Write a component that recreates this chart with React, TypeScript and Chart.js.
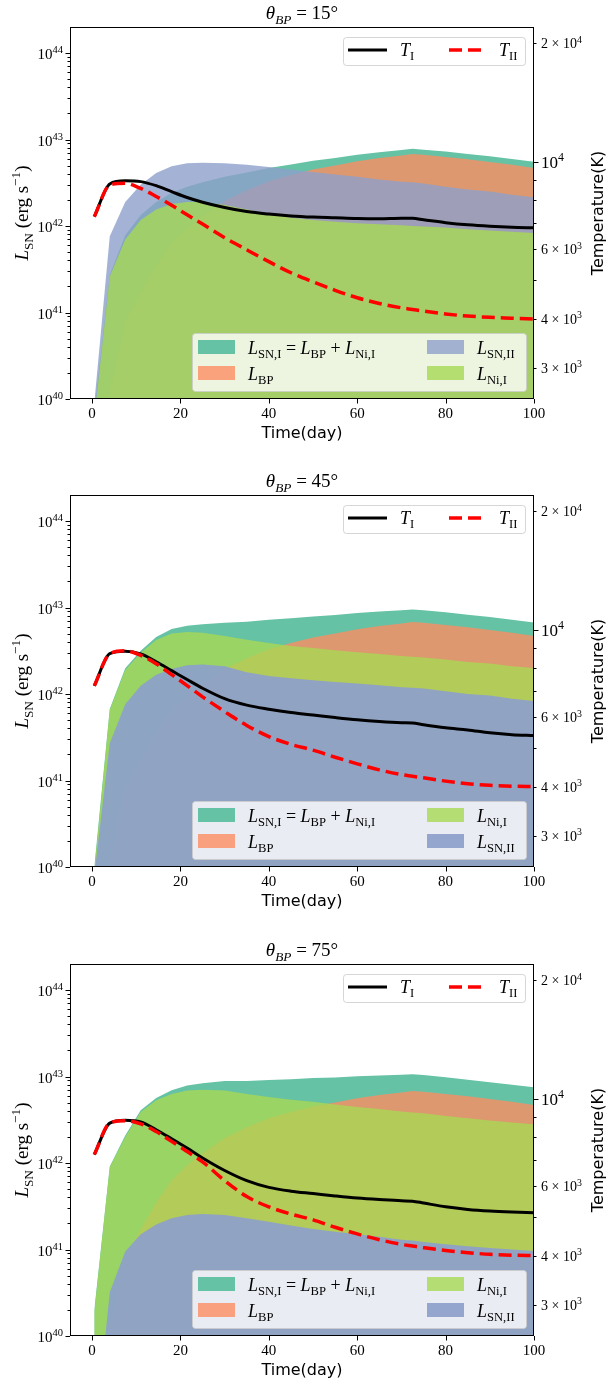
import React, { useEffect, useRef } from "react";
import { Chart, registerables } from "chart.js";

Chart.register(...registerables);

// ---------------- data ----------------
const days = [0.5, 4, 7.5, 11, 14.5, 18, 21.5, 25, 30, 35, 40, 45, 50, 55, 60, 65, 70, 72.5, 75, 80, 85, 90, 95, 100];

// L_BP (erg/s), same in the three panels
const lumBP = [1e39, 1.2e40, 8e40, 1.7e41, 3.5e41, 6.3e41, 9.5e41, 1.3e42, 1.95e42, 2.6e42, 3.3e42, 3.9e42, 4.5e42, 5.0e42, 5.6e42, 6.1e42, 6.55e42, 6.8e42, 6.65e42, 6.3e42, 5.9e42, 5.5e42, 5.1e42, 4.7e42];

// theta_BP = 15 deg
const lumSNI_15 = [7e39, 2.72e41, 7.8e41, 1.34e42, 1.9e42, 2.43e42, 2.85e42, 3.2e42, 3.7e42, 4.15e42, 4.68e42, 5.15e42, 5.67e42, 6.12e42, 6.68e42, 7.15e42, 7.57e42, 7.8e42, 7.64e42, 7.26e42, 6.82e42, 6.39e42, 5.96e42, 5.53e42];
const lumNiI_15 = [6e39, 2.6e41, 7e41, 1.17e42, 1.55e42, 1.8e42, 1.9e42, 1.9e42, 1.75e42, 1.55e42, 1.38e42, 1.25e42, 1.17e42, 1.12e42, 1.08e42, 1.05e42, 1.02e42, 1.0e42, 9.9e41, 9.6e41, 9.2e41, 8.9e41, 8.6e41, 8.3e41];
const lumSNII_15 = [9e39, 7.6e41, 1.9e42, 3.0e42, 4.1e42, 4.9e42, 5.3e42, 5.4e42, 5.3e42, 5.1e42, 4.8e42, 4.5e42, 4.2e42, 3.95e42, 3.7e42, 3.45e42, 3.25e42, 3.2e42, 3.1e42, 2.85e42, 2.65e42, 2.5e42, 2.3e42, 2.15e42];
const tempI_15 = [7260, 8790, 8950, 8910, 8700, 8400, 8120, 7900, 7660, 7480, 7370, 7290, 7240, 7210, 7180, 7170, 7190, 7190, 7130, 7010, 6920, 6860, 6820, 6800];
const tempII_15 = [7260, 8730, 8820, 8560, 8170, 7760, 7340, 6950, 6420, 5980, 5580, 5230, 4960, 4720, 4520, 4370, 4260, 4220, 4180, 4110, 4060, 4030, 4010, 3990];

// theta_BP = 45 deg
const lumSNI_45 = [1e40, 6.72e41, 1.98e42, 3.17e42, 4.55e42, 5.63e42, 6.15e42, 6.4e42, 6.65e42, 6.85e42, 7.2e42, 7.5e42, 7.9e42, 8.2e42, 8.65e42, 9.0e42, 9.3e42, 9.5e42, 9.3e42, 8.8e42, 8.25e42, 7.75e42, 7.2e42, 6.7e42];
const lumNiI_45 = [9e39, 6.6e41, 1.9e42, 3.0e42, 4.2e42, 5.0e42, 5.2e42, 5.1e42, 4.7e42, 4.25e42, 3.9e42, 3.6e42, 3.4e42, 3.2e42, 3.05e42, 2.9e42, 2.75e42, 2.7e42, 2.65e42, 2.5e42, 2.35e42, 2.25e42, 2.1e42, 2.0e42];
const lumSNII_45 = [8e39, 2.7e41, 7.6e41, 1.25e42, 1.67e42, 1.95e42, 2.15e42, 2.2e42, 2.1e42, 1.78e42, 1.62e42, 1.52e42, 1.44e42, 1.38e42, 1.32e42, 1.26e42, 1.2e42, 1.18e42, 1.16e42, 1.08e42, 1.0e42, 9.6e41, 8.8e41, 8.3e41];
const tempI_45 = [7210, 8700, 8820, 8690, 8300, 7880, 7480, 7110, 6690, 6440, 6290, 6170, 6080, 5990, 5910, 5850, 5810, 5800, 5740, 5640, 5570, 5480, 5420, 5390];
const tempII_45 = [7210, 8700, 8850, 8620, 8200, 7700, 7220, 6760, 6200, 5720, 5360, 5120, 4950, 4750, 4570, 4410, 4290, 4250, 4210, 4130, 4070, 4030, 4010, 4000];

// theta_BP = 75 deg
const lumSNI_75 = [2.0e40, 9.1e41, 2.08e42, 4.07e42, 5.65e42, 6.93e42, 7.85e42, 8.35e42, 8.85e42, 8.9e42, 9.1e42, 9.3e42, 9.6e42, 9.75e42, 1.005e43, 1.03e43, 1.05e43, 1.065e43, 1.04e43, 9.8e42, 9.2e42, 8.6e42, 8.05e42, 7.5e42];
const lumNiI_75 = [1.9e40, 9e41, 2.0e42, 3.9e42, 5.3e42, 6.3e42, 6.9e42, 7.05e42, 6.9e42, 6.3e42, 5.8e42, 5.4e42, 5.1e42, 4.75e42, 4.45e42, 4.2e42, 3.95e42, 3.85e42, 3.75e42, 3.5e42, 3.3e42, 3.1e42, 2.95e42, 2.8e42];
const lumSNII_75 = [5.6e38, 3.2e40, 9.5e40, 1.5e41, 1.95e41, 2.3e41, 2.5e41, 2.57e41, 2.5e41, 2.3e41, 2.1e41, 1.9e41, 1.73e41, 1.6e41, 1.5e41, 1.4e41, 1.3e41, 1.27e41, 1.22e41, 1.15e41, 1.09e41, 1.04e41, 1.0e41, 9.6e40];
const tempI_75 = [7220, 8680, 8830, 8740, 8350, 7920, 7500, 7080, 6580, 6200, 5960, 5830, 5750, 5670, 5600, 5550, 5510, 5500, 5440, 5320, 5240, 5190, 5160, 5140];
const tempII_75 = [7220, 8680, 8800, 8640, 8260, 7800, 7350, 6920, 6200, 5650, 5320, 5100, 4930, 4720, 4540, 4390, 4270, 4230, 4190, 4120, 4070, 4030, 4010, 4000];

const thetaValues = ["15", "45", "75"];
const xTickValues = [0, 20, 40, 60, 80, 100];
const lumTickExponents = [40, 41, 42, 43, 44];
const tempTickValues = [20000, 10000, 6000, 4000, 3000];
const tempTickMantissas = ["2 × ", "", "6 × ", "4 × ", "3 × "];
const tempTickExponents = ["4", "4", "3", "3", "3"];
const tempMinorTicks = [3000, 4000, 5000, 6000, 7000, 8000, 9000, 20000];

// ---------------- styling / layout ----------------
const W = 608;
const H = 446;
const AREA = { left: 70, right: 534, top: 27, bottom: 399 };
const PANEL_TOPS = [0, 468, 937];
const SERIF = '"Liberation Serif", "DejaVu Serif", serif';
const SANS = '"DejaVu Sans", sans-serif';

const C_SNI = "rgb(102,194,165)";
const C_BP = "rgba(252,141,98,0.8)";
const C_SNII = "rgba(141,160,203,0.8)";
const C_SNII_TOP = "rgba(141,160,203,0.92)";
const C_NI = "rgba(166,216,84,0.8)";

type Run = { t: string; it?: boolean; sub?: boolean; sup?: boolean };

const panels = [
  { theta: thetaValues[0], sni: lumSNI_15, ni: lumNiI_15, snii: lumSNII_15, tI: tempI_15, tII: tempII_15, niOnTop: true },
  { theta: thetaValues[1], sni: lumSNI_45, ni: lumNiI_45, snii: lumSNII_45, tI: tempI_45, tII: tempII_45, niOnTop: false },
  { theta: thetaValues[2], sni: lumSNI_75, ni: lumNiI_75, snii: lumSNII_75, tI: tempI_75, tII: tempII_75, niOnTop: false },
];

function fontFor(r: Run, size: number) {
  const s = r.sub || r.sup ? size * 0.7 : size;
  return `${r.it ? "italic " : ""}${s}px ${SERIF}`;
}
function runsWidth(ctx: CanvasRenderingContext2D, runs: Run[], size: number) {
  let w = 0;
  for (const r of runs) {
    ctx.font = fontFor(r, size);
    w += ctx.measureText(r.t).width;
  }
  return w;
}
function drawRuns(ctx: CanvasRenderingContext2D, runs: Run[], x: number, y: number, size: number, align: string) {
  const w = runsWidth(ctx, runs, size);
  let cx = align === "left" ? x : align === "center" ? x - w / 2 : x - w;
  ctx.textAlign = "left";
  ctx.textBaseline = "alphabetic";
  for (const r of runs) {
    ctx.font = fontFor(r, size);
    const dy = r.sub ? size * 0.24 : r.sup ? -size * 0.4 : 0;
    ctx.fillText(r.t, cx, y + dy);
    cx += ctx.measureText(r.t).width;
  }
}
function roundRect(ctx: CanvasRenderingContext2D, x: number, y: number, w: number, h: number, r: number) {
  ctx.beginPath();
  ctx.moveTo(x + r, y);
  ctx.lineTo(x + w - r, y);
  ctx.arcTo(x + w, y, x + w, y + r, r);
  ctx.lineTo(x + w, y + h - r);
  ctx.arcTo(x + w, y + h, x + w - r, y + h, r);
  ctx.lineTo(x + r, y + h);
  ctx.arcTo(x, y + h, x, y + h - r, r);
  ctx.lineTo(x, y + r);
  ctx.arcTo(x, y, x + r, y, r);
  ctx.closePath();
}

const labSNI: Run[] = [
  { t: "L", it: true }, { t: "SN,I", sub: true }, { t: " = " },
  { t: "L", it: true }, { t: "BP", sub: true }, { t: " + " },
  { t: "L", it: true }, { t: "Ni,I", sub: true },
];
const labBP: Run[] = [{ t: "L", it: true }, { t: "BP", sub: true }];
const labSNII: Run[] = [{ t: "L", it: true }, { t: "SN,II", sub: true }];
const labNi: Run[] = [{ t: "L", it: true }, { t: "Ni,I", sub: true }];

function makeDecor(p: (typeof panels)[number]) {
  return {
    id: "decor",
    afterDraw(chart: any) {
      const ctx: CanvasRenderingContext2D = chart.ctx;
      const ca = chart.chartArea;
      const yL = chart.scales.y;
      const yR = chart.scales.yT;
      const xs = chart.scales.x;
      ctx.save();
      ctx.fillStyle = "#000";
      ctx.strokeStyle = "#000";

      // frame
      ctx.lineWidth = 1;
      ctx.strokeRect(ca.left + 0.5, ca.top + 0.5, ca.right - ca.left - 1, ca.bottom - ca.top - 1);

      // ticks
      ctx.beginPath();
      for (const e of lumTickExponents) {
        for (let m = 1; m < 10; m++) {
          const v = m * Math.pow(10, e);
          if (v >= yL.max * 0.999) break;
          const py = Math.round(yL.getPixelForValue(v)) + 0.5;
          const len = m === 1 ? 4.5 : 2.5;
          ctx.moveTo(ca.left - len, py);
          ctx.lineTo(ca.left, py);
        }
      }
      for (const v of tempMinorTicks) {
        const py = Math.round(yR.getPixelForValue(v)) + 0.5;
        ctx.moveTo(ca.right, py);
        ctx.lineTo(ca.right + 2.5, py);
      }
      {
        const py = Math.round(yR.getPixelForValue(10000)) + 0.5;
        ctx.moveTo(ca.right, py);
        ctx.lineTo(ca.right + 4.5, py);
      }
      for (const v of xTickValues) {
        const px = Math.round(xs.getPixelForValue(v)) + 0.5;
        ctx.moveTo(px, ca.bottom);
        ctx.lineTo(px, ca.bottom + 4.5);
      }
      ctx.stroke();

      // tick labels
      for (const e of lumTickExponents) {
        const py = yL.getPixelForValue(Math.pow(10, e));
        drawRuns(ctx, [{ t: "10" }, { t: String(e), sup: true }], ca.left - 7, py + 6, 15, "right");
      }
      tempTickValues.forEach((v, i) => {
        const py = yR.getPixelForValue(v);
        const major = tempTickMantissas[i] === "";
        const size = major ? 17 : 14;
        drawRuns(ctx, [{ t: tempTickMantissas[i] + "10" }, { t: tempTickExponents[i], sup: true }], ca.right + 7, py + (major ? 6 : 5), size, "left");
      });
      for (const v of xTickValues) {
        const px = xs.getPixelForValue(v);
        drawRuns(ctx, [{ t: String(v) }], px, ca.bottom + 19, 15, "center");
      }

      // axis titles
      ctx.font = `16px ${SANS}`;
      ctx.textAlign = "center";
      ctx.textBaseline = "middle";
      ctx.fillText("Time(day)", (ca.left + ca.right) / 2, 434);
      ctx.save();
      ctx.translate(599, (ca.top + ca.bottom) / 2);
      ctx.rotate(-Math.PI / 2);
      ctx.font = `16px ${SANS}`;
      ctx.textAlign = "center";
      ctx.textBaseline = "middle";
      ctx.fillText("Temperature(K)", 0, 0);
      ctx.restore();
      ctx.save();
      ctx.translate(28, (ca.top + ca.bottom) / 2);
      ctx.rotate(-Math.PI / 2);
      drawRuns(ctx, [{ t: "L", it: true }, { t: "SN", sub: true }, { t: " (erg s" }, { t: "−1", sup: true }, { t: ")" }], 0, 0, 19, "center");
      ctx.restore();

      // title
      drawRuns(ctx, [{ t: "θ", it: true }, { t: "BP", it: true, sub: true }, { t: " = " + p.theta + "°" }], (ca.left + ca.right) / 2, 19, 19, "center");

      // temperature legend
      roundRect(ctx, 343.5, 37.5, 182, 28, 3);
      ctx.fillStyle = "rgba(255,255,255,0.8)";
      ctx.fill();
      ctx.strokeStyle = "rgba(204,204,204,0.8)";
      ctx.lineWidth = 1;
      ctx.stroke();
      ctx.lineWidth = 3;
      ctx.strokeStyle = "#000";
      ctx.beginPath();
      ctx.moveTo(348, 50);
      ctx.lineTo(387, 50);
      ctx.stroke();
      ctx.lineWidth = 3.5;
      ctx.strokeStyle = "#ff0000";
      ctx.setLineDash([13, 6]);
      ctx.beginPath();
      ctx.moveTo(449, 50);
      ctx.lineTo(486, 50);
      ctx.stroke();
      ctx.setLineDash([]);
      ctx.fillStyle = "#000";
      drawRuns(ctx, [{ t: "T", it: true }, { t: "I", sub: true }], 400, 56, 18, "left");
      drawRuns(ctx, [{ t: "T", it: true }, { t: "II", sub: true }], 499, 56, 18, "left");

      // luminosity legend
      roundRect(ctx, 192.5, 333.5, 334, 58, 3);
      ctx.fillStyle = "rgba(255,255,255,0.8)";
      ctx.fill();
      ctx.strokeStyle = "rgba(204,204,204,0.8)";
      ctx.lineWidth = 1;
      ctx.stroke();
      const blue = p.niOnTop ? C_SNII : C_SNII_TOP;
      const col2 = p.niOnTop ? [[blue, labSNII], [C_NI, labNi]] : [[C_NI, labNi], [blue, labSNII]];
      const entries: [number, number, string, Run[]][] = [
        [198, 340, C_SNI, labSNI],
        [198, 366, C_BP, labBP],
        [427, 340, col2[0][0] as string, col2[0][1] as Run[]],
        [427, 366, col2[1][0] as string, col2[1][1] as Run[]],
      ];
      for (const [x, y, c, lab] of entries) {
        ctx.fillStyle = c;
        ctx.fillRect(x, y, 37, 14);
        ctx.fillStyle = "#000";
        drawRuns(ctx, lab, x + 50, y + 13.5, 18, "left");
      }
      ctx.restore();
    },
  };
}

function pts(vals: number[]) {
  return days.map((d, i) => ({ x: d, y: vals[i] }));
}

function Panel({ index }: { index: number }) {
  const ref = useRef<HTMLCanvasElement | null>(null);
  useEffect(() => {
    const canvas = ref.current;
    if (!canvas) return;
    const p = panels[index];
    const fillDs = (label: string, vals: number[], color: string, order: number) => ({
      label,
      data: pts(vals),
      yAxisID: "y",
      borderColor: "rgba(0,0,0,0)",
      borderWidth: 0,
      backgroundColor: color,
      pointRadius: 0,
      fill: "start",
      tension: 0,
      order,
    });
    const chart = new Chart(canvas, {
      type: "line",
      data: {
        datasets: [
          {
            label: "T_II",
            data: pts(p.tII),
            yAxisID: "yT",
            borderColor: "#ff0000",
            borderWidth: 3.5,
            borderDash: [13, 6],
            borderJoinStyle: "round",
            pointRadius: 0,
            fill: false,
            cubicInterpolationMode: "monotone",
            order: 0,
          },
          {
            label: "T_I",
            data: pts(p.tI),
            yAxisID: "yT",
            borderColor: "#000000",
            borderWidth: 3,
            borderJoinStyle: "round",
            pointRadius: 0,
            fill: false,
            cubicInterpolationMode: "monotone",
            order: 1,
          },
          fillDs("L_Ni,I", p.ni, C_NI, p.niOnTop ? 2 : 3),
          fillDs("L_SN,II", p.snii, p.niOnTop ? C_SNII : C_SNII_TOP, p.niOnTop ? 3 : 2),
          fillDs("L_BP", lumBP, C_BP, 4),
          fillDs("L_SN,I", p.sni, C_SNI, 5),
        ],
      } as any,
      options: {
        responsive: false,
        animation: false,
        devicePixelRatio: 1,
        events: [],
        layout: { padding: { top: AREA.top, left: 0, right: 0, bottom: 0 } },
        plugins: {
          legend: { display: false },
          title: { display: false },
          tooltip: { enabled: false },
          filler: { propagate: false, drawTime: "beforeDatasetDraw" },
        },
        scales: {
          x: {
            type: "linear",
            min: -5,
            max: 100,
            ticks: { display: false },
            grid: { display: false },
            border: { display: false },
            afterFit: (s: any) => {
              s.height = H - AREA.bottom;
            },
          },
          y: {
            type: "logarithmic",
            position: "left",
            min: 1e40,
            max: 2e44,
            ticks: { display: false },
            grid: { display: false },
            border: { display: false },
            afterFit: (s: any) => {
              s.width = AREA.left;
            },
          },
          yT: {
            type: "logarithmic",
            position: "right",
            min: 2500,
            max: 22000,
            ticks: { display: false },
            grid: { display: false },
            border: { display: false },
            afterFit: (s: any) => {
              s.width = W - AREA.right;
            },
          },
        },
      } as any,
      plugins: [makeDecor(p)],
    });
    return () => chart.destroy();
  }, [index]);
  return (
    <canvas
      ref={ref}
      width={W}
      height={H}
      style={{ position: "absolute", left: 0, top: PANEL_TOPS[index], width: W, height: H }}
    />
  );
}

export default function App() {
  return (
    <div style={{ position: "absolute", left: 0, top: 0, width: W, height: 1383, overflow: "hidden", background: "#ffffff" }}>
      {panels.map((_, i) => (
        <Panel key={i} index={i} />
      ))}
    </div>
  );
}
